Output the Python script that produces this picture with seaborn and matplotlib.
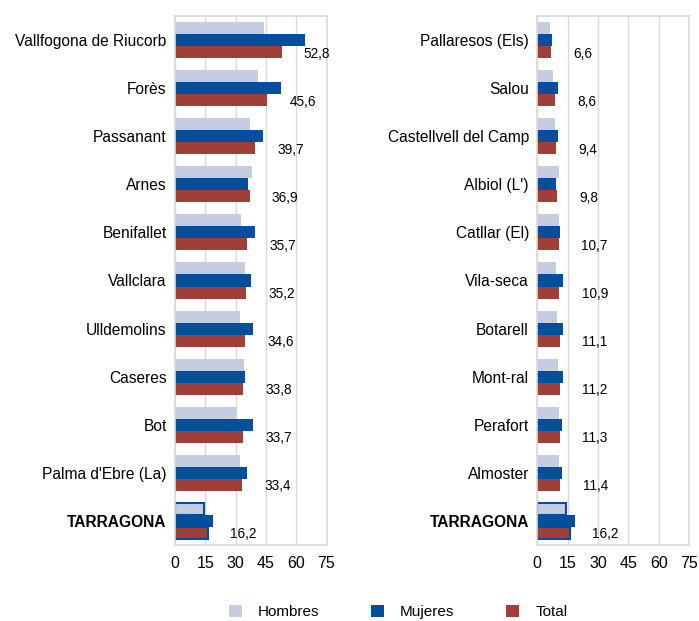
import matplotlib
matplotlib.use("Agg")
import matplotlib.pyplot as plt
import seaborn as sns
import pandas as pd
from matplotlib.patches import Patch

sns.set_style("white")
plt.rcParams['font.family'] = ['Liberation Sans', 'DejaVu Sans']
plt.rcParams['text.color'] = 'black'
plt.rcParams['xtick.color'] = 'black'
plt.rcParams['ytick.color'] = 'black'
plt.rcParams['xtick.labelcolor'] = 'black'
plt.rcParams['ytick.labelcolor'] = 'black'

series = ["Hombres", "Mujeres", "Total"]
colors = ["#c5cde1", "#004f9f", "#a03f38"]

left_names = ["Vallfogona de Riucorb", "Forès", "Passanant", "Arnes", "Benifallet",
              "Vallclara", "Ulldemolins", "Caseres", "Bot", "Palma d'Ebre (La)", "TARRAGONA"]
left_hombres = [44.0, 41.0, 37.1, 38.0, 32.7, 34.5, 32.3, 34.0, 30.2, 32.2, 14.4]
left_mujeres = [64.2, 52.3, 43.7, 36.3, 39.6, 37.5, 38.4, 34.5, 38.4, 35.5, 18.7]
left_total = [52.8, 45.6, 39.7, 36.9, 35.7, 35.2, 34.6, 33.8, 33.7, 33.4, 16.2]

right_names = ["Pallaresos (Els)", "Salou", "Castellvell del Camp", "Albiol (L')", "Catllar (El)",
               "Vila-seca", "Botarell", "Mont-ral", "Perafort", "Almoster", "TARRAGONA"]
right_hombres = [6.3, 7.6, 8.9, 10.6, 10.6, 9.4, 9.6, 10.1, 10.6, 10.9, 14.2]
right_mujeres = [7.4, 10.1, 10.1, 9.2, 11.1, 12.6, 12.9, 12.6, 12.4, 12.1, 18.7]
right_total = [6.6, 8.6, 9.4, 9.8, 10.7, 10.9, 11.1, 11.2, 11.3, 11.4, 16.2]

xticks = [0, 15, 30, 45, 60, 75]
highlight = "TARRAGONA"


def long_df(names, h, m, t):
    rows = []
    for vals, s in zip([h, m, t], series):
        for n, v in zip(names, vals):
            rows.append({"municipio": n, "serie": s, "valor": v})
    return pd.DataFrame(rows)


fig = plt.figure(figsize=(6.99, 6.21), dpi=100)
W, H = 699, 621
axL = fig.add_axes([175 / W, 1 - 545 / H, 151.5 / W, 529 / H])
axR = fig.add_axes([537.3 / W, 1 - 545 / H, 151.7 / W, 529 / H])

for ax, names, h, m, t in [(axL, left_names, left_hombres, left_mujeres, left_total),
                           (axR, right_names, right_hombres, right_mujeres, right_total)]:
    df = long_df(names, h, m, t)
    sns.barplot(data=df, y="municipio", x="valor", hue="serie", orient="h",
                palette=colors, hue_order=series, order=names, width=0.75,
                gap=0, ax=ax, legend=False, saturation=1, errorbar=None,
                linewidth=0, edgecolor="none")
    ax.set_xlim(0, 75)
    ax.set_ylim(len(names) - 0.5, -0.5)
    ax.set_xticks(xticks)
    ax.set_xticklabels([str(x) for x in xticks], fontsize=11.5)
    ax.set_xlabel("")
    ax.set_ylabel("")
    ax.grid(axis="x", color="#d9d9d9", linewidth=1)
    ax.set_axisbelow(True)
    for sp in ax.spines.values():
        sp.set_color("#d9d9d9")
        sp.set_linewidth(1.2)
    ax.tick_params(axis="both", length=0)
    ax.tick_params(axis="x", pad=8)
    ax.tick_params(axis="y", pad=6, labelsize=11.2)
    for lab in ax.get_yticklabels():
        lab.set_color("black")
        if lab.get_text() == highlight:
            lab.set_fontweight("bold")
    # highlight edges
    hi = names.index(highlight)
    for ci, cont in enumerate(ax.containers):
        if series[ci] != "Mujeres":
            bar = cont.patches[hi]
            bar.set_edgecolor("#004f9f")
            bar.set_linewidth(1.5)
    total_cont = ax.containers[series.index("Total")]
    labs = [f"{v:.1f}".replace(".", ",") for v in t]
    anns = ax.bar_label(total_cont, labels=labs, padding=16, fontsize=9.8, color="black")
    for a in anns:
        a.set_va("center_baseline")

handles = [Patch(facecolor=c, edgecolor="none") for c in colors]
fig.legend(handles, series, loc="center", bbox_to_anchor=(398 / W, 1 - 612 / H), ncol=3,
           frameon=False, fontsize=11, handlelength=0.85, handleheight=0.85,
           handletextpad=1.05, columnspacing=3.4, borderpad=0.1)

fig.savefig("out.png", dpi=100)
